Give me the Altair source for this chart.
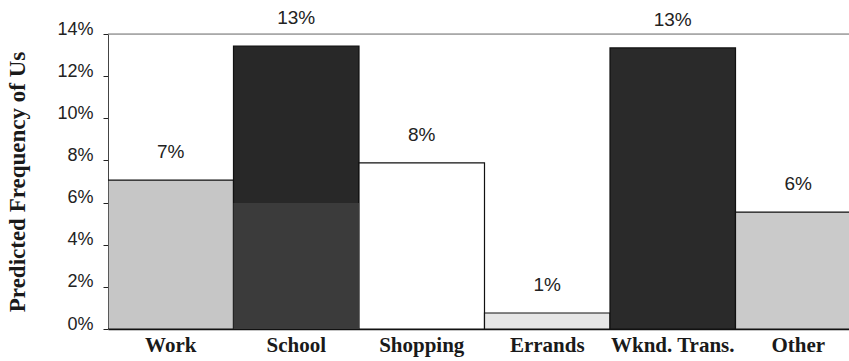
import altair as alt
import pandas as pd

categories = ["Work", "School", "Shopping", "Errands", "Wknd. Trans.", "Other"]
values = [0.0707, 0.1343, 0.0788, 0.0076, 0.1334, 0.0555]
fills = ["#c6c6c6", "#282828", "#ffffff", "#e6e6e6", "#2a2a2a", "#cacaca"]
school_lower = 0.0598
y_ticks = [0, 0.02, 0.04, 0.06, 0.08, 0.10, 0.12, 0.14]

df = pd.DataFrame({"cat": categories, "val": values, "fill": fills})
df_lower = pd.DataFrame({"cat": ["School"], "val": [school_lower], "fill": ["#3b3b3b"]})

xs = alt.Scale(domain=categories, range=[0, 753], paddingInner=0, paddingOuter=0)
ys = alt.Scale(domain=[0, 0.14], nice=False)

x_enc = alt.X("cat:N", sort=categories, scale=xs,
              axis=alt.Axis(title=None, labelAngle=0, ticks=False, domain=True,
                            domainColor="#111", domainWidth=1.5,
                            labelFont="Liberation Serif", labelFontWeight="bold",
                            labelFontSize=21, labelColor="#1a1a1a", labelPadding=5))
y_enc = alt.Y("val:Q", scale=ys,
              axis=alt.Axis(title="Predicted Frequency of Us", format=".0%", values=y_ticks,
                            grid=False, tickSize=5, tickColor="#222", domainColor="#444",
                            labelFont="Liberation Sans", labelFontSize=18, labelColor="#222",
                            labelPadding=10, labelOffset=-5,
                            titleFont="Liberation Serif", titleFontWeight="bold",
                            titleFontSize=23, titleColor="#1a1a1a", titlePadding=27))

bars = alt.Chart(df).mark_bar(stroke="#111", strokeWidth=1.2, clip=True).encode(
    x=x_enc, y=y_enc, fill=alt.Fill("fill:N", scale=None)
)
lower = alt.Chart(df_lower).mark_bar(clip=True).encode(
    x=alt.X("cat:N", sort=categories, scale=xs), y=alt.Y("val:Q", scale=ys),
    fill=alt.Fill("fill:N", scale=None)
)
labels = alt.Chart(df).mark_text(font="Liberation Sans", fontSize=19, color="#222",
                                 dy=-28, baseline="middle", clip=False).encode(
    x=alt.X("cat:N", sort=categories, scale=xs),
    y=alt.Y("val:Q", scale=ys),
    text=alt.Text("val:Q", format=".0%")
)
top_line = alt.Chart(pd.DataFrame({"y": [0.14]})).mark_rule(color="#777", strokeWidth=1.2).encode(
    y=alt.Y("y:Q", scale=ys)
)

chart = alt.layer(top_line, bars, lower, labels).properties(
    width=741, height=295,
    padding={"left": 108, "top": 34, "right": 0, "bottom": 32},
    autosize=alt.AutoSizeParams(type="none"),
).configure_view(stroke=None).configure(background="white")

chart.save("out.html", embed_options={"renderer": "svg", "actions": False})
